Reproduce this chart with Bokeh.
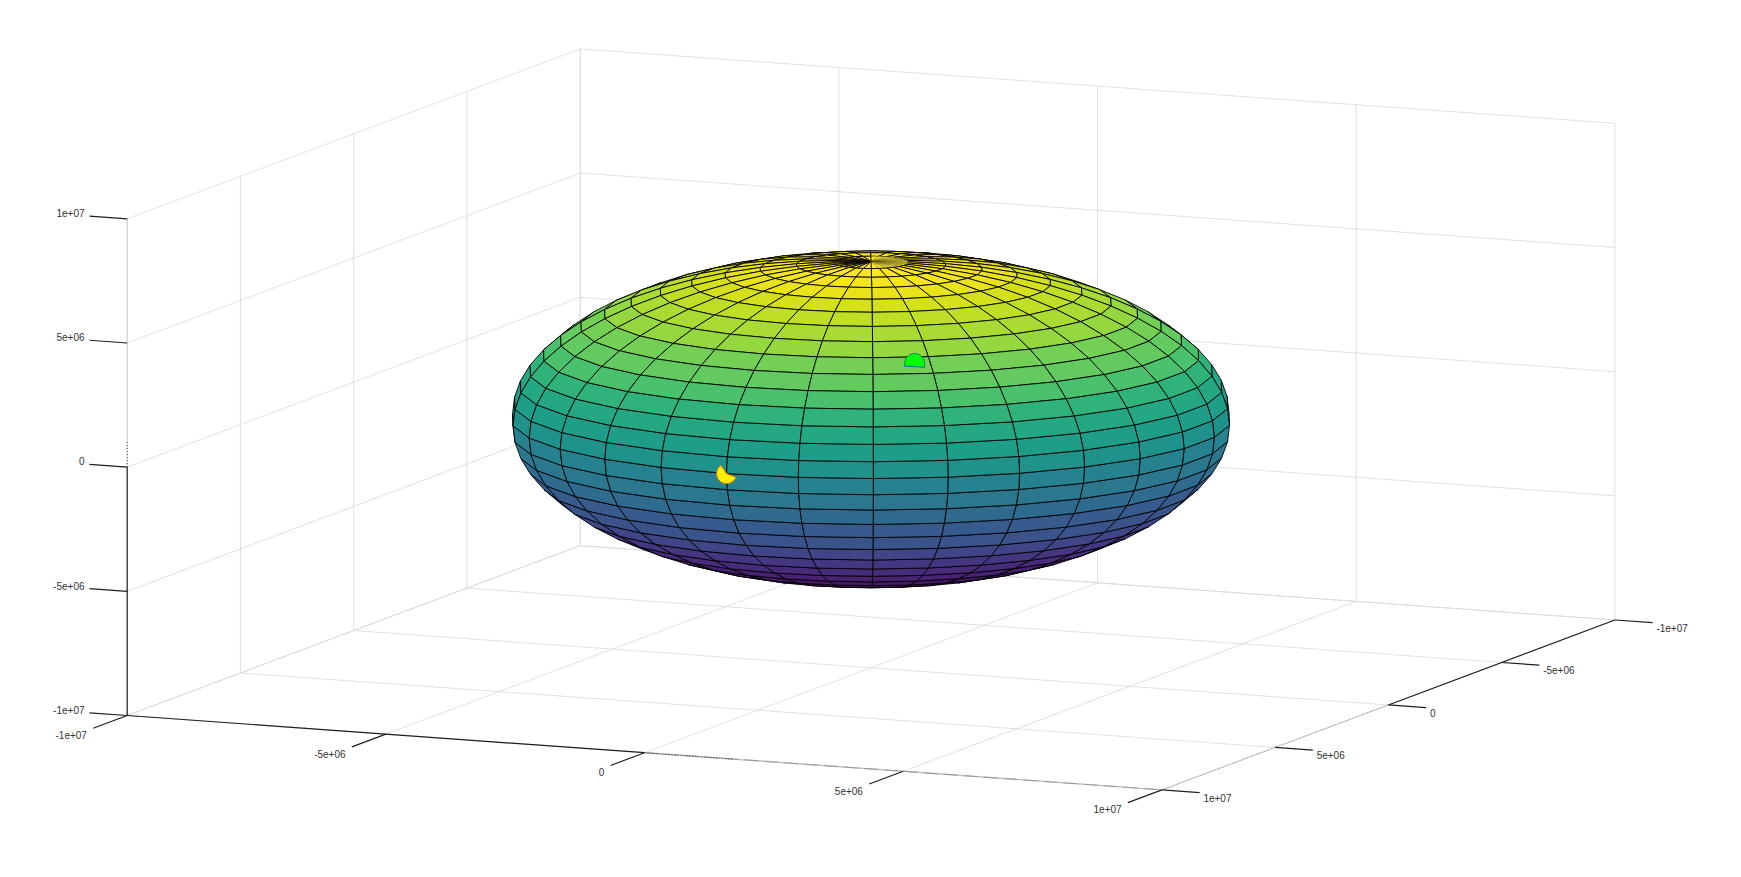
import numpy as np
from bokeh.plotting import figure
from bokeh.models import Range1d
from bokeh.core.properties import value
from bokeh.palettes import Viridis256
from bokeh.embed import file_html
from bokeh.resources import INLINE

# ---- data ----
tick_values = [-1e7, -5e6, 0, 5e6, 1e7]
tick_labels = ["-1e+07", "-5e+06", "0", "5e+06", "1e+07"]
axis_limit = 1e7
semi_major = 6378137.0
semi_minor = 6356752.0
latitudes = np.arange(-90, 91, 6)
longitudes = np.arange(6, 367, 12)
green_point = [2.65e6, 4.13e6, 4.06e6]
yellow_point = [0.0, 6.378e6, 0.0]

W, H = 1725, 860

# ---- orthographic view of the axes box (page pixels per data unit) ----
CX, CY = 870.55, 418.9
AX, BX = 517.35 / 1e7, -226.5 / 1e7
AY, BY, CZ = 37.2 / 1e7, 84.95 / 1e7, -248.35 / 1e7
VIEW = np.array([56251.0, 128483.0, 52374.0])


def proj(x, y, z):
    x, y, z = np.asarray(x, float), np.asarray(y, float), np.asarray(z, float)
    return CX + AX * x + BX * y, CY + AY * x + BY * y + CZ * z


p = figure(width=W, height=H, output_backend="svg", toolbar_location=None,
           x_range=Range1d(0, W), y_range=Range1d(H, 0),
           min_border=0, background_fill_color="white", border_fill_color="white")
p.axis.visible = False
p.grid.visible = False
p.outline_line_color = None

L = axis_limit
AXIS = "#1f1f1f"


def segs(list3d):
    xs, ys = [], []
    for a, b in list3d:
        px, py = proj([a[0], b[0]], [a[1], b[1]], [a[2], b[2]])
        xs.append(list(px))
        ys.append(list(py))
    return xs, ys


def lines(list3d, **kw):
    xs, ys = segs(list3d)
    p.multi_line(xs, ys, **kw)


# ---- grid on floor and back walls ----
grid = []
for t in tick_values:
    grid.append(((t, -L, -L), (t, L, -L)))    # x ticks, floor
    grid.append(((t, -L, -L), (t, -L, L)))    # x ticks, back wall
    grid.append(((-L, t, -L), (L, t, -L)))    # y ticks, floor
    grid.append(((-L, t, -L), (-L, t, L)))    # y ticks, side wall
    grid.append(((-L, -L, t), (L, -L, t)))    # z ticks, back wall
    grid.append(((-L, -L, t), (-L, L, t)))    # z ticks, side wall
lines(grid, line_color="#d9d9d9", line_width=0.8)

# ---- axes: the parts not overdrawn by the grid ----
lines([((-L, L, -L), (0, L, -L)), ((L, -L, -L), (L, 0, -L)), ((-L, L, -L), (-L, L, 0))],
      line_color=AXIS, line_width=1.2)

# ---- axes: parts where grid and axis fight ----
lines([((0, L, -L), (L, L, -L))], line_color="#c2c2c2", line_width=1.4)
lines([((0, L, -L), (L, L, -L))], line_color="#7a7a7a", line_width=0.6, line_dash="14 6")
lines([((0, L, -L), (0.17 * L, L, -L))], line_color="#333333", line_width=1, line_dash="1 2")
lines([((L, 0, -L), (L, L, -L))], line_color="#8c8c8c", line_width=1, line_dash="1 1")
lines([((-L, L, 1.0e6), (-L, L, L))], line_color="#d9d9d9", line_width=1.5)
lines([((-L, L, 0), (-L, L, 1.0e6))], line_color=AXIS, line_width=1, line_dash="1 2")

# ---- ticks ----
tx = [((t, L, -L), (t, L + 0.15 * L, -L)) for t in tick_values]
ty = [((L, t, -L), (L + 0.0729 * L, t, -L)) for t in tick_values]
tz = [((-L, L, t), (-L - 0.0729 * L, L, t)) for t in tick_values]
lines(tx + ty + tz, line_color=AXIS, line_width=1.2)

# ---- tick labels ----
font = value("Liberation Sans")
size = value("10px")
lx, ly = proj(tick_values, [L] * 5, [-L] * 5)
p.text(lx - 40.3, ly + 19.5, text=tick_labels, text_font=font, text_font_size=size,
       text_color="#333333", text_align="right", text_baseline="middle")
lx, ly = proj([L] * 5, tick_values, [-L] * 5)
p.text(lx + 41.5, ly + 8, text=tick_labels, text_font=font, text_font_size=size,
       text_color="#333333", text_align="left", text_baseline="middle")
lx, ly = proj([-L] * 5, [L] * 5, tick_values)
p.text(lx - 42.7, ly - 5.8, text=tick_labels, text_font=font, text_font_size=size,
       text_color="#333333", text_align="right", text_baseline="middle")

# ---- surface ----
lat = np.radians(latitudes)
lon = np.radians(longitudes)
LON, LAT = np.meshgrid(lon, lat)
X = semi_major * np.cos(LAT) * np.cos(LON)
Y = semi_major * np.cos(LAT) * np.sin(LON)
Z = semi_minor * np.sin(LAT)
PX, PY = proj(X, Y, Z)
Zn = (Z - Z.min()) / (Z.max() - Z.min())
pole_x = proj(0, 0, semi_minor)[0]

faces = []
for i in range(Z.shape[0] - 1):
    for j in range(Z.shape[1] - 1):
        idx = ([i, i, i + 1, i + 1], [j, j + 1, j + 1, j])
        c = np.array([X[idx].mean(), Y[idx].mean(), Z[idx].mean()])
        depth = c @ VIEW
        if depth < -0.02 * semi_major * np.linalg.norm(VIEW):
            continue
        level = min(int(Zn[i, j] * 64), 63)
        color = Viridis256[int(round(level / 63 * 255))]
        # the cap's lines are partly swallowed on the side right of the pole
        faint = i == Z.shape[0] - 2 and PX[idx].mean() > pole_x
        faces.append((depth, list(PX[idx]), list(PY[idx]), color,
                      "#4d4a10" if faint else "black", 0.4 if faint else 0.9))
faces.sort(key=lambda f: f[0])
p.patches([f[1] for f in faces], [f[2] for f in faces],
          fill_color=[f[3] for f in faces], line_color=[f[4] for f in faces],
          line_width=[f[5] for f in faces])


# ---- two markers, partly sunk in the surface ----
def disc(point, a0, a1, r=10.0, tail=None):
    cx, cy = proj(*point)
    a = np.radians(np.linspace(a0, a1, 60))
    xs = list(cx + r * np.cos(a))
    ys = list(cy - r * np.sin(a))
    if tail == "center":
        xs.append(float(cx))
        ys.append(float(cy))
    elif tail == "legs":
        xs = [float(cx + r)] + xs + [float(cx - r)]
        ys = [float(cy + 3.8)] + ys + [float(cy + 2.6)]
    return xs, ys


gxs, gys = disc(green_point, 0, 180, tail="legs")
p.patch(gxs, gys, fill_color="#00ff00", line_color="#14737a", line_width=1)
yxs, yys = disc(yellow_point, 125, 338, tail="center")
p.patch(yxs, yys, fill_color="#ffee00", line_color="#e8760a", line_width=1)

open("out.html", "w").write(file_html(p, INLINE))
